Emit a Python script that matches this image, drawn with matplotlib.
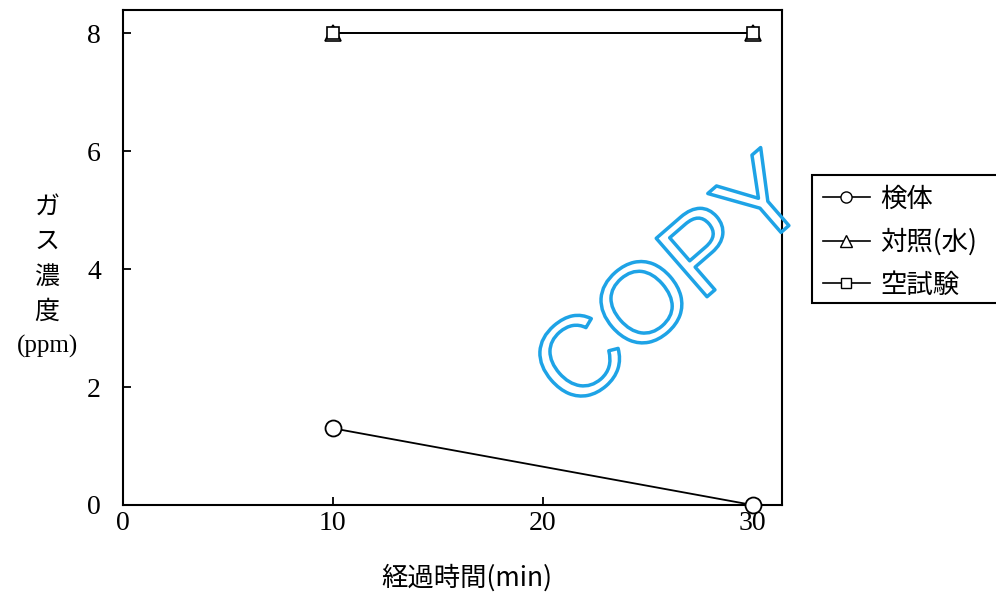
import matplotlib
matplotlib.use("Agg")
import matplotlib.pyplot as plt
from matplotlib.lines import Line2D
from matplotlib.patches import Rectangle
import matplotlib.patheffects as pe

plt.rcParams['font.family'] = ['Noto Sans CJK JP', 'DejaVu Sans']

# data
time_min = [10, 30]
sample = [1.3, 0.0]          # 検体
control_water = [8.0, 8.0]   # 対照(水)
blank = [8.0, 8.0]           # 空試験
series_labels = ['検体', '対照(水)', '空試験']
x_ticks = [0, 10, 20, 30]
y_ticks = [0, 2, 4, 6, 8]

fig = plt.figure(figsize=(9.96, 5.95), dpi=100)
ax = fig.add_axes([123/996, 1 - 505/595, (782 - 123)/996, (505 - 10)/595])

ax.plot(time_min, sample, color='black', lw=1.3, marker='o', ms=11.5,
        mfc='white', mec='black', mew=1.3, clip_on=False, zorder=3)
ax.plot(time_min, control_water, color='black', lw=1.3, marker='^', ms=11,
        mfc='white', mec='black', mew=1.2, clip_on=False, zorder=3)
ax.plot(time_min, blank, color='black', lw=1.3, marker='s', ms=8,
        mfc='white', mec='black', mew=1.2, clip_on=False, zorder=4)

ax.set_xlim(0, 31.4)
ax.set_ylim(0, 8.39)
ax.set_xticks(x_ticks)
ax.set_yticks(y_ticks)
serif = {'family': 'Liberation Serif', 'size': 20}
ax.set_xticklabels([str(t) for t in x_ticks], fontdict=serif)
ax.set_yticklabels([str(t) for t in y_ticks], fontdict=serif)
ax.tick_params(axis='both', direction='in', length=6, width=1.3, color='black')
ax.tick_params(axis='y', pad=16)
ax.tick_params(axis='x', pad=4)
for sp in ax.spines.values():
    sp.set_linewidth(1.5)

# y label (stacked)
ylab_x = 47 / 996
for txt, ypx in [('ガ', 207), ('ス', 242), ('濃', 277), ('度', 312)]:
    fig.text(ylab_x, 1 - ypx/595, txt, ha='center', va='center', fontsize=18)
fig.text(ylab_x, 1 - 346/595, '(ppm)', ha='center', va='center', fontsize=18,
         family='Liberation Serif')

# x label
fig.text(467/996, 1 - 578/595, '経過時間(min)', ha='center', va='center', fontsize=19)

# legend (frame drawn separately, it runs off the right edge)
fig.add_artist(Rectangle((812/996, 1 - 303/595), (1010 - 812)/996, 128/595,
                         transform=fig.transFigure, facecolor='white',
                         edgecolor='black', linewidth=1.5, zorder=5))
handles = [
    Line2D([], [], color='black', lw=1.2, marker='o', ms=8, mfc='white', mec='black'),
    Line2D([], [], color='black', lw=1.2, marker='^', ms=8, mfc='white', mec='black'),
    Line2D([], [], color='black', lw=1.2, marker='s', ms=7, mfc='white', mec='black'),
]
leg = fig.legend(handles, series_labels, loc='upper left',
                 bbox_to_anchor=(812/996, 1 - 175/595), bbox_transform=fig.transFigure,
                 fontsize=19, frameon=False, borderpad=0.4,
                 handlelength=1.8, handletextpad=0.4, labelspacing=0.6,
                 borderaxespad=0)
leg.set_zorder(6)

# watermark
fig.text(674/996, 1 - 287/595, 'COPY', ha='center', va='center', rotation=41,
         fontsize=81, family='Liberation Sans', color='none',
         path_effects=[pe.Stroke(linewidth=2.5, foreground='#1ea3e6')], zorder=10)

fig.savefig('out.png', dpi=100, facecolor='white')
